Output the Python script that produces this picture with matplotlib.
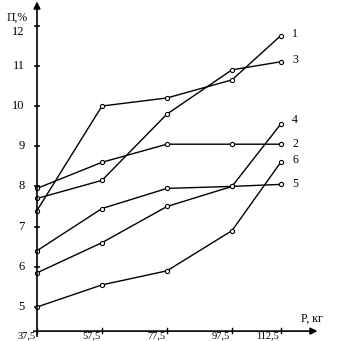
import matplotlib
matplotlib.use("Agg")
import matplotlib.pyplot as plt

# нагрузка P, кг
loads = [37.5, 57.5, 77.5, 97.5, 112.5]
x_labels = ["37,5", "57,5", "77,5", "97,5", "112,5"]

# П, % для кривых 1-6
curve_1 = [7.4, 10.0, 10.2, 10.65, 11.75]
curve_2 = [7.95, 8.6, 9.05, 9.05, 9.05]
curve_3 = [7.7, 8.15, 9.8, 10.9, 11.1]
curve_4 = [5.85, 6.6, 7.5, 8.0, 9.55]
curve_5 = [6.4, 7.45, 7.95, 8.0, 8.05]
curve_6 = [5.0, 5.55, 5.9, 6.9, 8.6]

curves = {"1": curve_1, "2": curve_2, "3": curve_3,
          "4": curve_4, "5": curve_5, "6": curve_6}

y_ticks = [5, 6, 7, 8, 9, 10, 11, 12]

plt.rcParams["font.family"] = ["Liberation Serif", "DejaVu Serif"]

fig = plt.figure(figsize=(3.54, 3.41), dpi=100)
ax = fig.add_axes([0, 0, 1, 1])
ax.set_xlim(26.12, 135.04)
ax.set_ylim(4.154, 12.637)
ax.axis("off")

x0 = loads[0]
y0 = 4.40

# оси со стрелками
ax.annotate("", xy=(x0, 12.6), xytext=(x0, 4.27),
            arrowprops=dict(arrowstyle="-|>", color="black", lw=1.2,
                            mutation_scale=10, shrinkA=0, shrinkB=0))
ax.annotate("", xy=(123.8, y0), xytext=(x0 - 1, y0),
            arrowprops=dict(arrowstyle="-|>", color="black", lw=1.2,
                            mutation_scale=10, shrinkA=0, shrinkB=0))

for v in y_ticks:
    ax.plot([x0 - 0.5, x0 + 0.5], [v, v], color="black", lw=1.2)
    # верхняя подпись на рисунке чуть ниже своего деления
    dy = -0.17 if v == 12 else 0.0
    ax.text(x0 - 3.8, v + dy, str(v), ha="right", va="center", fontsize=9)
ax.text(x0 - 3.0, 12.2, "П,%", ha="right", va="center", fontsize=8.5)

for x, lab in zip(loads, x_labels):
    ax.plot([x, x], [y0 - 0.05, y0 + 0.07], color="black", lw=1.0)
    ax.text(x - 0.5, y0 - 0.01, lab, ha="right", va="top", fontsize=7.5)
ax.text(122, 4.72, "P, кг", ha="center", va="center", fontsize=8.5)

label_offsets = {"1": 0.05, "2": 0.0, "3": 0.05, "4": 0.1, "5": 0.0, "6": 0.05}
for name, vals in curves.items():
    ax.plot(loads, vals, color="black", lw=1.0, marker="o", markersize=3.0,
            markerfacecolor="white", markeredgewidth=0.8)
    ax.text(loads[-1] + 3.5, vals[-1] + label_offsets[name], name,
            ha="left", va="center", fontsize=8.5)

fig.savefig("out.png", dpi=100)
